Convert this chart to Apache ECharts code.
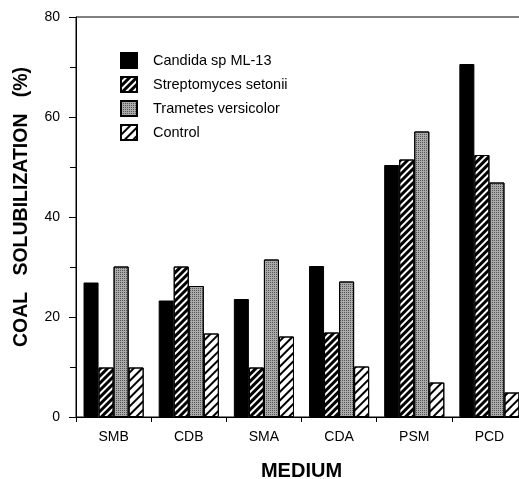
<!DOCTYPE html>
<html><head><meta charset="utf-8">
<script src="https://cdn.jsdelivr.net/npm/echarts@6/dist/echarts.min.js"></script>
<style>html,body{margin:0;padding:0;background:#fff;overflow:hidden;width:100%;height:100%;}#c{position:absolute;left:0;top:0;width:519px;height:479px;}</style>
</head><body><div id="c"></div>
<script>
var categories = ['SMB', 'CDB', 'SMA', 'CDA', 'PSM', 'PCD'];
var candida = [26.9, 23.3, 23.6, 30.2, 50.4, 70.6];
var streptomyces = [9.9, 30.1, 9.9, 16.9, 51.5, 52.4];
var trametes = [30.1, 26.2, 31.5, 27.1, 57.1, 46.9];
var control = [9.9, 16.7, 16.1, 10.1, 6.9, 4.9];
var yTicks = [0, 20, 40, 60, 80];

var FONT = '"Liberation Sans", Arial, Helvetica, sans-serif';
var el = document.getElementById('c');
var chart = echarts.init(el, null, {renderer: 'canvas'});
function bar(name, data, style) {
  return {name: name, type: 'bar', data: data, barGap: '0%', barCategoryGap: '20%',
    itemStyle: style, emphasis: {disabled: true}};
}
chart.setOption({
  animation: false,
  backgroundColor: '#fff',
  textStyle: {fontFamily: FONT, color: '#000'},
  grid: {left: 76, top: 17, width: 451, height: 400, containLabel: false, outerBoundsMode: 'none',
    show: true, borderColor: '#000', borderWidth: 1, backgroundColor: 'transparent'},
  legend: {
    orient: 'vertical', left: 120, top: 52, padding: 0, itemWidth: 16, itemHeight: 15, itemGap: 7, icon: 'rect',
    textStyle: {fontFamily: FONT, fontSize: 14.5, color: '#000', padding: [0, 0, 0, 11]},
    data: ['Candida sp ML-13', 'Streptomyces setonii', 'Trametes versicolor', 'Control']
  },
  graphic: [{
    type: 'text', x: 22, y: 207, rotation: Math.PI / 2,
    style: {text: 'COAL   SOLUBILIZATION   (%)', fontFamily: FONT, fontSize: 19.5, fontWeight: 'bold',
      fill: '#000', align: 'center', verticalAlign: 'middle'}
  }],
  xAxis: {
    type: 'category', data: categories,
    name: 'MEDIUM', nameLocation: 'middle', nameGap: 44,
    nameTextStyle: {fontFamily: FONT, fontSize: 20, fontWeight: 'bold', color: '#000'},
    axisLine: {lineStyle: {color: '#000', width: 1}},
    axisTick: {show: true, length: 5, lineStyle: {color: '#000'}},
    axisLabel: {fontFamily: FONT, fontSize: 14, color: '#000', margin: 13}
  },
  yAxis: {
    type: 'value', min: yTicks[0], max: yTicks[yTicks.length - 1], interval: 20,
    axisLine: {show: true, lineStyle: {color: '#000', width: 1}},
    axisTick: {show: true, length: 7, lineStyle: {color: '#000'}},
    minorTick: {show: true, splitNumber: 2, length: 6, lineStyle: {color: '#000'}},
    splitLine: {show: false},
    axisLabel: {fontFamily: FONT, fontSize: 14, color: '#000', margin: 16}
  },
  series: [
    bar('Candida sp ML-13', candida, {color: '#000', borderColor: '#000', borderWidth: 1}),
    bar('Streptomyces setonii', streptomyces, {color: '#fff', borderColor: '#000', borderWidth: 1,
      decal: {symbol: 'rect', symbolSize: 1, color: '#000', dashArrayX: [1, 0], dashArrayY: [3, 2], rotation: -Math.PI / 4}}),
    bar('Trametes versicolor', trametes, {color: '#aaaaaa', borderColor: '#000', borderWidth: 1,
      decal: {symbol: 'rect', symbolSize: 1, color: '#555', dashArrayX: [1, 1], dashArrayY: [1, 1], rotation: 0}}),
    bar('Control', control, {color: '#fff', borderColor: '#000', borderWidth: 1,
      decal: {symbol: 'rect', symbolSize: 1, color: '#000', dashArrayX: [1, 0], dashArrayY: [1.3, 3.7], rotation: -Math.PI / 4}})
  ]
});
</script></body></html>
